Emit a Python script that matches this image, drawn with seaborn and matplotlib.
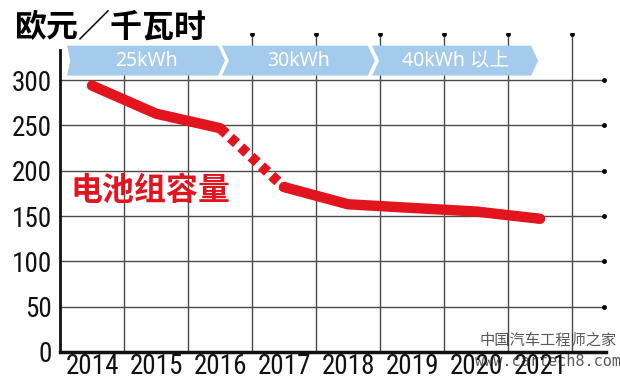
import matplotlib
matplotlib.use("Agg")
import matplotlib.pyplot as plt
import seaborn as sns
import pandas as pd
from matplotlib import font_manager
from matplotlib.patches import Polygon

# data
years = ["2014", "2015", "2016", "2017", "2018", "2019", "2020", "2021"]
price = [294, 263, 247, 182, 163, 159, 155, 147]
y_ticks = [0, 50, 100, 150, 200, 250, 300]
band_labels = ["25kWh", "30kWh", "40kWh 以上"]
band_start = [-0.39, 2.03, 4.375]
band_end = [2.08, 4.42, 6.97]

RED = "#e2141d"
BLUE = "#a4cbec"
GRID = "#4a4a4a"

sns.set_theme(style="white")
installed = {f.name for f in font_manager.fontManager.ttflist}
num_font, num_size = "Liberation Sans", 17
for cand in ["Liberation Sans Narrow", "Arial Narrow", "Roboto Condensed",
             "Archivo Narrow", "PT Sans Narrow"]:
    if cand in installed:
        num_font, num_size = cand, 19.5
        break
plt.rcParams["font.family"] = ["Noto Sans CJK SC", "DejaVu Sans"]

fig = plt.figure(figsize=(6.2, 3.84), dpi=100)
ax = fig.add_axes([60 / 620, 32 / 384, 546 / 620, 319 / 384])
x = list(range(len(years)))
xmax = len(years) + 0.03
ymax = 352
ax.set_xlim(-0.5, xmax)
ax.set_ylim(0, ymax)

# grid lines ending in small dots
for v in y_ticks[1:]:
    ax.plot([-0.5, 8.0], [v, v], color=GRID, lw=1, zorder=1)
    ax.plot([8.0], [v], "o", color="black", ms=2.5, zorder=1)
for i in range(len(years)):
    gx = i + 0.5
    top = 338 if gx < 2 else 351
    ax.plot([gx, gx], [0, top], color=GRID, lw=1, zorder=1)
    if top > 340:
        ax.plot([gx], [top], "o", color="black", ms=2.5, zorder=1)

# capacity banner (chevrons)
y_lo, y_hi = 305, 338
y_mid = (y_lo + y_hi) / 2
for k, (a, b, lab) in enumerate(zip(band_start, band_end, band_labels)):
    notch = 0.05 if k == 0 else 0.11
    pts = [(a, y_hi), (b - 0.11, y_hi), (b, y_mid), (b - 0.11, y_lo), (a, y_lo), (a + notch, y_mid)]
    ax.add_patch(Polygon(pts, closed=True, facecolor=BLUE, edgecolor="none", zorder=3))
    ax.text((a + b) / 2, y_mid, lab, color="white", fontsize=14, ha="center", va="center",
            family=["Noto Sans", "Noto Sans CJK SC"], zorder=4)

# price line: solid, dotted gap 2016-2017, solid
df = pd.DataFrame({"x": x, "price": price})
line_kw = dict(color=RED, linewidth=7.5, solid_capstyle="round", zorder=5)
sns.lineplot(data=df.iloc[:3], x="x", y="price", ax=ax, **line_kw)
sns.lineplot(data=df.iloc[3:], x="x", y="price", ax=ax, **line_kw)
ax.plot(df["x"].iloc[2:4], df["price"].iloc[2:4], color=RED, linewidth=7.5,
        linestyle=(0, (0.8, 0.55)), dash_capstyle="butt", zorder=5)

ax.text(0.92, 178, "电池组容量", color=RED, fontsize=23, fontweight="bold",
        ha="center", va="center", zorder=6)

# axes and ticks
for s in ["top", "right"]:
    ax.spines[s].set_visible(False)
ax.spines["left"].set_linewidth(2)
ax.spines["left"].set_color("#111111")
ax.spines["left"].set_bounds(0, 333)
ax.spines["bottom"].set_linewidth(2.5)
ax.spines["bottom"].set_color("#111111")
ax.set_xticks(x)
ax.set_xticklabels(years)
ax.set_yticks(y_ticks)
ax.tick_params(axis="both", length=0, labelsize=num_size, colors="#111111")
ax.tick_params(axis="x", pad=1)
ax.tick_params(axis="y", pad=6)
for t in ax.get_xticklabels() + ax.get_yticklabels():
    t.set_family(num_font)
ax.set_xlabel("")
ax.set_ylabel("")
ax.grid(False)

fig.text(15 / 620, 1 - 28 / 384, "欧元／千瓦时", fontsize=23, fontweight="black",
         color="black", ha="left", va="center")

# watermark
fig.text(548 / 620, 1 - 340 / 384, "中国汽车工程师之家", fontsize=11, color="#222222",
         alpha=0.75, ha="center", va="center")
fig.text(548 / 620, 1 - 362 / 384, "www.cartech8.com", fontsize=11, color="#222222",
         alpha=0.75, ha="center", va="center", family="DejaVu Sans Mono")

fig.savefig("out.png", dpi=100)
